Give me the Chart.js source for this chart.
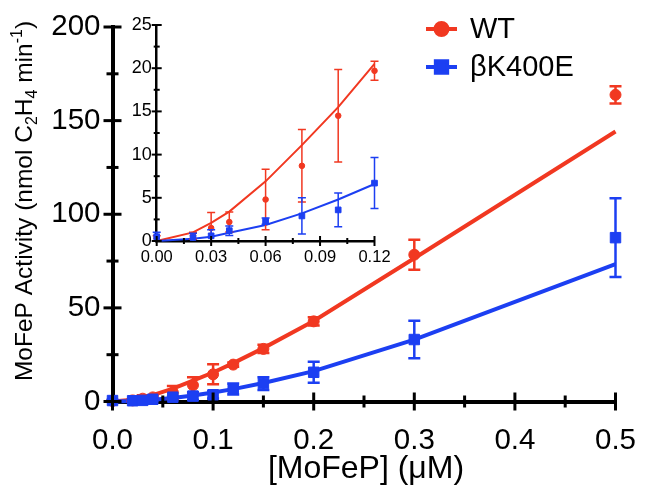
<!DOCTYPE html>
<html>
<head>
<meta charset="utf-8">
<script src="https://cdn.jsdelivr.net/npm/chart.js@4.4.0/dist/chart.umd.min.js"></script>
<style>
  html, body { margin: 0; padding: 0; background: #fff; }
  #wrap { position: relative; width: 645px; height: 499px; }
  #main { position: absolute; left: 0; top: 0; }
  #inset { position: absolute; left: 100px; top: 0; }
</style>
</head>
<body>
<div id="wrap">
  <canvas id="main" width="645" height="499"></canvas>
  <canvas id="inset" width="300" height="280"></canvas>
</div>
<script>
// [MoFeP] in uM
const conc = [0, 0.02, 0.03, 0.04, 0.06, 0.08, 0.10, 0.12, 0.15, 0.20, 0.30, 0.50];
const seriesNames = ["WT", "\u03B2K400E"];

// WT activity, error and fitted curve
const wtActivity = [0.3, 0.6, 1.5, 2.2, 4.8, 8.7, 14.5, 19.7, 28.1, 42.8, 78.4, 163.8];
const wtError    = [0.3, 0.4, 1.8, 1.15, 3.5, 4.2, 5.35, 1.1, 2.2, 2.2, 8.0, 4.6];
const wtFit      = [0, 1.0, 2.1, 3.4, 6.9, 11.1, 15.5, 20.5, 28.5, 43.0, 76.5, 144.2];

// bK400E activity, error and fitted curve
const bkActivity = [0.5, 0.4, 0.6, 1.2, 2.3, 2.9, 3.6, 6.7, 9.6, 15.6, 33.1, 87.5];
const bkError    = [0.5, 0.5, 0.7, 0.55, 0.35, 2.1, 1.95, 2.95, 3.4, 5.6, 10.0, 21.0];
const bkFit      = [0, 0.25, 0.5, 0.95, 1.85, 3.2, 4.8, 6.6, 9.9, 16.2, 33.0, 73.3];

// inset only shows the low concentrations
const insetCount = 8;

const RED = "rgb(241,56,33)";
const BLUE = "rgb(28,63,242)";
const FONT = "'Liberation Sans', Arial, Helvetica, sans-serif";

function isMult(v, step) {
  const r = v / step;
  return Math.abs(r - Math.round(r)) < 1e-6;
}

function pts(xs, ys, n) {
  return xs.slice(0, n).map((x, i) => ({ x: x, y: ys[i] }));
}

// keep the plot area exactly where we put it
function noOverflow(s) {
  s.paddingLeft = 0; s.paddingRight = 0; s.paddingTop = 0; s.paddingBottom = 0;
}

// error bars drawn just before each point dataset
const errorBars = {
  id: "errorBars",
  beforeDatasetDraw(chart, args) {
    const ds = chart.data.datasets[args.index];
    if (!ds.errors) return;
    const xs = chart.scales.x, ys = chart.scales.y;
    const ctx = chart.ctx;
    ctx.save();
    ctx.strokeStyle = ds.borderColor;
    ctx.lineWidth = ds.errWidth;
    ds.data.forEach((p, i) => {
      const e = ds.errors[i];
      const px = xs.getPixelForValue(p.x);
      const top = ys.getPixelForValue(p.y + e);
      let low = p.y - e;
      const cut = low < ys.min;
      if (cut) low = ys.min;
      const bot = ys.getPixelForValue(low);
      const hw = ds.capWidth / 2;
      ctx.beginPath();
      ctx.moveTo(px, top); ctx.lineTo(px, bot);
      ctx.moveTo(px - hw, top); ctx.lineTo(px + hw, top);
      if (!cut) { ctx.moveTo(px - hw, bot); ctx.lineTo(px + hw, bot); }
      ctx.stroke();
    });
    ctx.restore();
  }
};

// prism style ticks that cross the axis line
const crossTicks = {
  id: "crossTicks",
  afterDraw(chart, args, o) {
    const ctx = chart.ctx;
    const a = chart.chartArea;
    const xs = chart.scales.x, ys = chart.scales.y;
    ctx.save();
    ctx.strokeStyle = "#000";
    ctx.lineWidth = o.width;
    xs.ticks.forEach(t => {
      const px = xs.getPixelForValue(t.value);
      const len = isMult(t.value, o.xMajor) ? o.major : o.minor;
      ctx.beginPath();
      ctx.moveTo(px, a.bottom - len);
      ctx.lineTo(px, a.bottom + len);
      ctx.stroke();
    });
    ys.ticks.forEach(t => {
      const py = ys.getPixelForValue(t.value);
      const len = isMult(t.value, o.yMajor) ? o.major : o.minor;
      ctx.beginPath();
      ctx.moveTo(a.left - len, py);
      ctx.lineTo(a.left + len, py);
      ctx.stroke();
    });
    ctx.restore();
  }
};

// axis titles and legend for the big chart
const decorations = {
  id: "decorations",
  afterDraw(chart) {
    const ctx = chart.ctx;
    ctx.save();
    ctx.fillStyle = "#000";

    // x title
    ctx.font = "32px " + FONT;
    ctx.textAlign = "center";
    ctx.textBaseline = "middle";
    ctx.fillText("[MoFeP] (\u03BCM)", 366, 469);

    // y title with sub/superscripts
    const size = 24.5, small = 16;
    const parts = [
      { t: "MoFeP Activity (nmol C", s: 0 },
      { t: "2", s: 1 },
      { t: "H", s: 0 },
      { t: "4", s: 1 },
      { t: " min", s: 0 },
      { t: "-1", s: 2 },
      { t: ")", s: 0 }
    ];
    let total = 0;
    parts.forEach(p => {
      ctx.font = (p.s ? small : size) + "px " + FONT;
      p.w = ctx.measureText(p.t).width;
      total += p.w;
    });
    ctx.translate(32, 201);
    ctx.rotate(-Math.PI / 2);
    ctx.textAlign = "left";
    ctx.textBaseline = "alphabetic";
    let x = -total / 2;
    parts.forEach(p => {
      ctx.font = (p.s ? small : size) + "px " + FONT;
      const dy = p.s === 1 ? 5 : (p.s === 2 ? -10 : 0);
      ctx.fillText(p.t, x, dy);
      x += p.w;
    });
    ctx.setTransform(1, 0, 0, 1, 0, 0);

    // legend
    const rows = [
      { name: seriesNames[0], color: RED, style: "circle", r: 6, y: 29 },
      { name: seriesNames[1], color: BLUE, style: "rect", r: 8, y: 67 }
    ];
    rows.forEach(r => {
      ctx.strokeStyle = r.color;
      ctx.fillStyle = r.color;
      ctx.lineWidth = 4;
      ctx.beginPath();
      ctx.moveTo(426, r.y);
      ctx.lineTo(457, r.y);
      ctx.stroke();
      Chart.helpers.drawPoint(ctx, { pointStyle: r.style, radius: r.r, borderWidth: 1, rotation: 0 }, 441.5, r.y);
      ctx.fillStyle = "#000";
      ctx.font = "29px " + FONT;
      ctx.textAlign = "left";
      ctx.textBaseline = "middle";
      ctx.fillText(r.name, 470, r.y + 1);
    });
    ctx.restore();
  }
};

function makeDatasets(n, big) {
  const lw = big ? 4 : 2;
  return [
    {
      label: seriesNames[1], data: pts(conc, bkActivity, n), errors: bkError.slice(0, n),
      showLine: false, pointStyle: "rect", pointRadius: big ? 7.4 : 4,
      backgroundColor: BLUE, borderColor: BLUE, pointBorderWidth: 1,
      errWidth: big ? 2.5 : 1.5, capWidth: big ? 12 : 8, clip: false
    },
    {
      label: seriesNames[0], data: pts(conc, wtActivity, n), errors: wtError.slice(0, n),
      showLine: false, pointStyle: "circle", pointRadius: big ? 5.5 : 2.8,
      backgroundColor: RED, borderColor: RED, pointBorderWidth: 1,
      errWidth: big ? 2.5 : 1.5, capWidth: big ? 12 : 8, clip: false
    },
    {
      label: seriesNames[1] + " fit", data: pts(conc, bkFit, n),
      showLine: true, pointRadius: 0, borderColor: BLUE, borderWidth: lw, tension: 0, clip: false
    },
    {
      label: seriesNames[0] + " fit", data: pts(conc, wtFit, n),
      showLine: true, pointRadius: 0, borderColor: RED, borderWidth: lw, tension: 0, clip: false
    }
  ];
}

// main chart
new Chart(document.getElementById("main"), {
  type: "scatter",
  data: { datasets: makeDatasets(conc.length, true) },
  options: {
    responsive: false,
    animation: false,
    layout: { autoPadding: false, padding: { left: 0, right: 29.5, top: 27, bottom: 0 } },
    plugins: {
      legend: { display: false },
      tooltip: { enabled: false },
      crossTicks: { width: 3, major: 9, minor: 6, xMajor: 0.1, yMajor: 50 }
    },
    scales: {
      x: {
        type: "linear", min: 0, max: 0.5,
        grid: { display: false, drawTicks: false },
        border: { display: true, color: "#000", width: 4 },
        ticks: {
          stepSize: 0.05, autoSkip: false, maxRotation: 0, padding: 22, color: "#000",
          font: { family: FONT, size: 29.5 },
          callback: v => isMult(v, 0.1) ? v.toFixed(1) : ""
        },
        afterFit: s => { s.height = 97.5; noOverflow(s); }
      },
      y: {
        type: "linear", min: 0, max: 200,
        grid: { display: false, drawTicks: false },
        border: { display: true, color: "#000", width: 4 },
        ticks: {
          stepSize: 25, autoSkip: false, padding: 12, color: "#000",
          font: { family: FONT, size: 29.5 },
          callback: v => isMult(v, 50) ? String(v) : ""
        },
        afterFit: s => { s.width = 112.5; noOverflow(s); }
      }
    }
  },
  plugins: [errorBars, crossTicks, decorations]
});

// inset chart
new Chart(document.getElementById("inset"), {
  type: "scatter",
  data: { datasets: makeDatasets(insetCount, false) },
  options: {
    responsive: false,
    animation: false,
    layout: { autoPadding: false, padding: { left: 0, right: 25.5, top: 25, bottom: 0 } },
    plugins: {
      legend: { display: false },
      tooltip: { enabled: false },
      crossTicks: { width: 2, major: 5, minor: 3, xMajor: 0.03, yMajor: 5 }
    },
    scales: {
      x: {
        type: "linear", min: 0, max: 0.12,
        grid: { display: false, drawTicks: false },
        border: { display: true, color: "#000", width: 2.5 },
        ticks: {
          stepSize: 0.015, autoSkip: false, maxRotation: 0, padding: 7, color: "#000",
          font: { family: FONT, size: 16.5 },
          callback: v => isMult(v, 0.03) ? v.toFixed(2) : ""
        },
        afterFit: s => { s.height = 39; noOverflow(s); }
      },
      y: {
        type: "linear", min: 0, max: 25,
        grid: { display: false, drawTicks: false },
        border: { display: true, color: "#000", width: 2.5 },
        ticks: {
          stepSize: 2.5, autoSkip: false, padding: 5, color: "#000",
          font: { family: FONT, size: 18 },
          callback: v => isMult(v, 5) ? String(v) : ""
        },
        afterFit: s => { s.width = 56.7; noOverflow(s); }
      }
    }
  },
  plugins: [errorBars, crossTicks]
});
</script>
</body>
</html>
